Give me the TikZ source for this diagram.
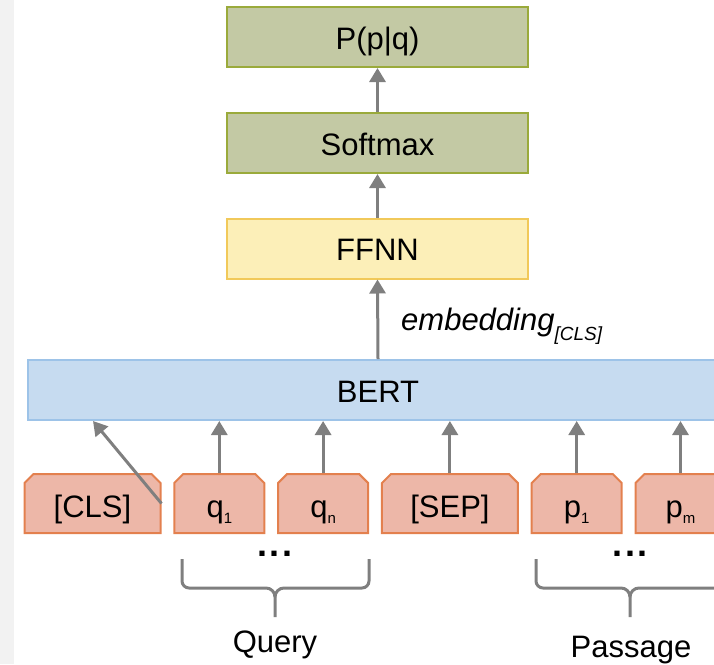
\documentclass[tikz,border=0pt]{standalone}
\usepackage{fontspec}
\setmainfont{Liberation Sans}
\usetikzlibrary{positioning,shapes.misc,arrows.meta}

\definecolor{outfill}{HTML}{C3C9A4}
\definecolor{outline}{HTML}{9AAA3B}
\definecolor{ffnfill}{HTML}{FCEFB8}
\definecolor{ffnline}{HTML}{F1C95A}
\definecolor{bertfill}{HTML}{C6DBF0}
\definecolor{bertline}{HTML}{9DC3E8}
\definecolor{tokfill}{HTML}{EDB7A8}
\definecolor{tokline}{HTML}{E3804E}
\definecolor{arrgray}{HTML}{7F7F7F}
\definecolor{stripgray}{HTML}{F2F2F2}

\newcommand{\toksub}[1]{\raisebox{-6pt}{\fontsize{15}{17}\selectfont #1}}

\tikzset{
    lbl/.style={font=\fontsize{31}{36}\selectfont},
    layer/.style={lbl, draw, line width=2pt, minimum height=60pt,
        text height=24pt, text depth=0pt},
    outbox/.style={layer, fill=outfill, draw=outline, minimum width=301pt},
    ffnbox/.style={layer, fill=ffnfill, draw=ffnline, minimum width=301pt},
    bertbox/.style={layer, fill=bertfill, draw=bertline, minimum width=700pt},
    token/.style={lbl, chamfered rectangle,
        chamfered rectangle corners={north west,north east},
        chamfered rectangle xsep=4.5pt, chamfered rectangle ysep=4.5pt,
        draw=tokline, fill=tokfill, line width=2pt,
        minimum height=59pt, text height=28pt, text depth=0pt},
    arr/.style={draw=arrgray, line width=3pt, -{Triangle[width=16pt,length=14pt]}},
    bracesty/.style={draw=arrgray, line width=3pt},
    dotsty/.style={font=\fontsize{36}{40}\selectfont\bfseries, inner sep=0pt}
}

\begin{document}
\begin{tikzpicture}[x=1pt, y=-1pt]
    \useasboundingbox (0,0) rectangle (714,664);
    \clip (0,0) rectangle (714,664);
    \fill[stripgray] (0,0) rectangle (14,664);

    % output stack
    \node[outbox] (prob) at (377.5,37) {P(p|q)};
    \node[outbox] (softmax) at (377.5,143) {Softmax};
    \node[ffnbox] (ffnn) at (377.5,248.5) {FFNN};
    \node[bertbox] (bert) at (378,390) {BERT};
    \node[lbl, anchor=base west, inner sep=0pt] (emb) at (401,330)
        {\itshape embedding\raisebox{-10pt}{\fontsize{19}{22}\selectfont [CLS]}};

    % input tokens
    \node[token, minimum width=136pt] (cls) at (92.5,503.5) {[CLS]};
    \node[token, minimum width=90pt, right=11.8pt of cls] (q1) {q\toksub{1}};
    \node[token, minimum width=90pt, right=11.8pt of q1] (qn) {q\toksub{n}};
    \node[token, minimum width=136pt, right=11.8pt of qn] (sep) {[SEP]};
    \node[token, minimum width=90pt, right=11.8pt of sep] (p1) {p\toksub{1}};
    \node[token, minimum width=90pt, right=11.8pt of p1] (pm) {p\toksub{m}};

    \node[dotsty, anchor=base] (qdots) at (275,556) {.\hspace{3pt}.\hspace{3pt}.};
    \node[dotsty, anchor=base] (pdots) at (630,556) {.\hspace{3pt}.\hspace{3pt}.};

    \coordinate (clsin) at ([xshift=66pt]bert.south west);
    \draw[arr] (cls.east) -- (clsin);
    \foreach \t in {q1,qn,sep,p1,pm}
        \draw[arr] (\t.north) -- (\t.north |- bert.south);
    \draw[arr] (bert.north) -- (ffnn.south);
    \draw[arr] (ffnn.north) -- (softmax.south);
    \draw[arr] (softmax.north) -- (prob.south);

    % braces
    \draw[bracesty] (182,559) -- (182,581) to[out=-90,in=180] (189,588) -- (266,588)
        to[out=0,in=90] (275,597) -- (275,617);
    \draw[bracesty] (369,559) -- (369,581) to[out=-90,in=0] (362,588) -- (284,588)
        to[out=180,in=90] (275,597);
    \draw[bracesty] (536,559) -- (536,581) to[out=-90,in=180] (543,588) -- (621,588)
        to[out=0,in=90] (630,597) -- (630,617);
    \draw[bracesty] (724,559) -- (724,581) to[out=-90,in=0] (717,588) -- (639,588)
        to[out=180,in=90] (630,597);

    \node[lbl, anchor=base] (query) at (275,652) {Query};
    \node[lbl, anchor=base] (passage) at (631,657) {Passage};
\end{tikzpicture}
\end{document}
